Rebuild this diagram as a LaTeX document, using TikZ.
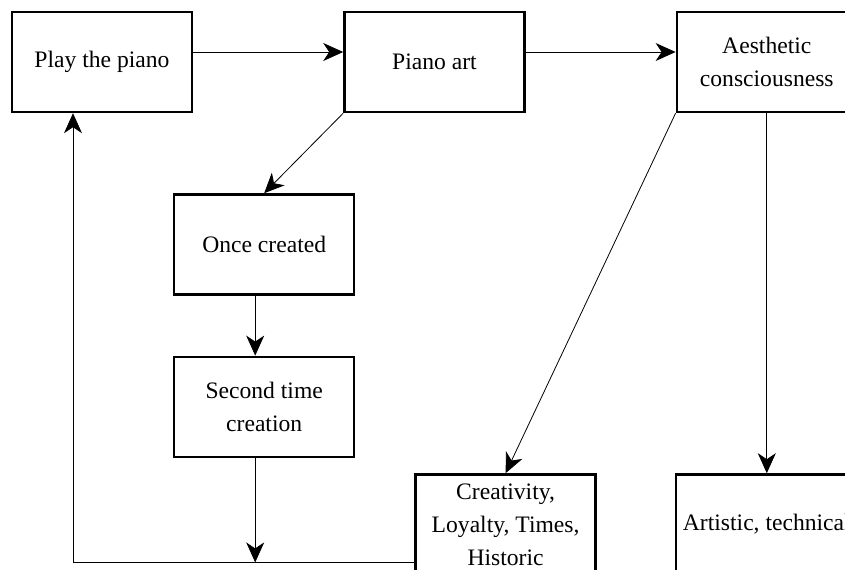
\documentclass[tikz,border=0pt]{standalone}
\usepackage{fontspec}
\setmainfont{Liberation Serif}
\usetikzlibrary{arrows.meta,chains,positioning}
\tikzset{box/.style={draw, line width=1.2pt, rectangle, minimum width=90pt, minimum height=50pt, align=center, text=black, font=\fontsize{11.8}{16.5}\selectfont}, >={Stealth[length=10pt,width=9pt,inset=3pt]}, line width=1.2pt, start chain=going right, node distance=75pt}

\begin{document}
\begin{tikzpicture}
    \useasboundingbox (-51pt,31pt) rectangle (371.5pt,-253.5pt);
    \clip (-51pt,31pt) rectangle (371.5pt,-253.5pt);
    \node[box,on chain] (play) {Play the piano};
    \node[box,on chain] (art) {Piano art};
    \node[box,on chain] (aes) {Aesthetic\\consciousness};
    \node[box,below=40pt of art.south west,xshift=-39.5pt] (once) {Once created};
    \node[box,below=30pt of once] (second) {Second time\\creation};
    \node[box,below=180pt of aes.south west,xshift=-85pt] (crea) {Creativity,\\Loyalty, Times,\\Historic};
    \node[box,below=180pt of aes] (arti) {Artistic, technical};
    \coordinate (turn) at ([yshift=-19pt]crea.west);
    \draw[->] ([yshift=5pt]play.east) -- ([yshift=5pt]art.west);
    \draw[->] ([yshift=5pt]art.east) -- ([yshift=5pt]aes.west);
    \draw[->] (art.south west) -- (once.north);
    \draw[->] ([xshift=-4.5pt]once.south) -- ([xshift=-4.5pt]second.north);
    \draw[->] ([xshift=-4.5pt]second.south) -- ([xshift=-4.5pt]second.south |- turn);
    \draw[->] (turn) -| ([xshift=-14.5pt]play.south);
    \draw[->] (aes.south west) -- (crea.north);
    \draw[->] (aes.south) -- (arti.north);
\end{tikzpicture}
\end{document}
